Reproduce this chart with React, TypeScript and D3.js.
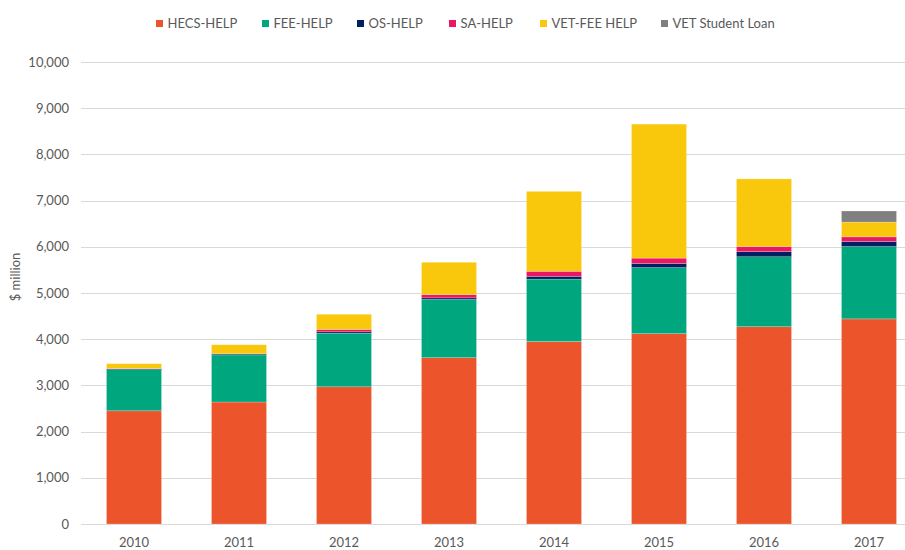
import React, { useEffect, useRef } from 'react';
import * as d3 from 'd3';

const years = ['2010', '2011', '2012', '2013', '2014', '2015', '2016', '2017'];
const seriesNames = ['HECS-HELP', 'FEE-HELP', 'OS-HELP', 'SA-HELP', 'VET-FEE HELP', 'VET Student Loan'];
const seriesColors = ['#EC552C', '#00A77E', '#002060', '#EC1763', '#F9C80C', '#808080'];

const hecsHelp = [2450, 2640, 2970, 3600, 3950, 4120, 4270, 4440];
const feeHelp = [890, 1020, 1160, 1260, 1350, 1430, 1515, 1565];
const osHelp = [20, 20, 30, 35, 60, 90, 110, 110];
const saHelp = [5, 5, 50, 70, 110, 115, 110, 100];
const vetFeeHelp = [105, 195, 330, 700, 1730, 2900, 1465, 320];
const vetStudentLoan = [0, 0, 0, 0, 0, 0, 0, 240];

const yTicks = [0, 1000, 2000, 3000, 4000, 5000, 6000, 7000, 8000, 9000, 10000];
const legendX = [156, 262, 357, 449, 540, 661];

const W = 905;
const H = 550;
const FONT = 'Lato, "Open Sans", sans-serif';

const App = () => {
  const ref = useRef<SVGSVGElement>(null);

  useEffect(() => {
    const svg = d3.select(ref.current);
    svg.selectAll('*').remove();

    const all = [hecsHelp, feeHelp, osHelp, saHelp, vetFeeHelp, vetStudentLoan];
    const rows = years.map((yr, i) => {
      const row: any = { year: yr };
      seriesNames.forEach((s, k) => { row[s] = all[k][i]; });
      return row;
    });

    const x = d3.scaleBand()
      .domain(years)
      .range([81.5, 921.5])
      .paddingInner(0.476)
      .paddingOuter(0.238);

    const y = d3.scaleLinear().domain([0, 10000]).range([524, 62]);

    // gridlines
    svg.append('g')
      .selectAll('line')
      .data(yTicks)
      .enter()
      .append('line')
      .attr('x1', 81)
      .attr('x2', W)
      .attr('y1', d => Math.round(y(d)) + 0.5)
      .attr('y2', d => Math.round(y(d)) + 0.5)
      .attr('stroke', '#D9D9D9')
      .attr('stroke-width', 1);

    // y tick labels
    svg.append('g')
      .selectAll('text')
      .data(yTicks)
      .enter()
      .append('text')
      .attr('x', 69)
      .attr('y', d => y(d) + 4.5)
      .attr('text-anchor', 'end')
      .style('font-family', FONT)
      .style('font-size', '13px')
      .style('fill', '#595959')
      .text(d => d3.format(',')(d));

    // y axis title
    svg.append('text')
      .attr('transform', 'translate(20, 277) rotate(-90)')
      .attr('text-anchor', 'middle')
      .style('font-family', FONT)
      .style('font-size', '13px')
      .style('fill', '#595959')
      .text('$ million');

    const stack = d3.stack().keys(seriesNames);
    const layers = stack(rows);

    svg.append('g')
      .selectAll('g')
      .data(layers)
      .enter()
      .append('g')
      .attr('fill', (d, i) => seriesColors[i])
      .selectAll('rect')
      .data(d => d.filter(p => p[1] - p[0] > 0))
      .enter()
      .append('rect')
      .attr('x', (d: any) => x(d.data.year) as number)
      .attr('width', x.bandwidth())
      .attr('y', d => y(d[1]))
      .attr('height', d => y(d[0]) - y(d[1]))
      .attr('stroke', '#ffffff')
      .attr('stroke-opacity', 0.35)
      .attr('stroke-width', 0.6);

    // x labels
    svg.append('g')
      .selectAll('text')
      .data(years)
      .enter()
      .append('text')
      .attr('x', d => (x(d) as number) + x.bandwidth() / 2)
      .attr('y', 547)
      .attr('text-anchor', 'middle')
      .style('font-family', FONT)
      .style('font-size', '13px')
      .style('fill', '#595959')
      .text(d => d);

    // legend
    const legend = svg.append('g')
      .selectAll('g')
      .data(seriesNames)
      .enter()
      .append('g')
      .attr('transform', (d, i) => `translate(${legendX[i]}, 20)`);

    legend.append('rect')
      .attr('width', 7)
      .attr('height', 7)
      .attr('fill', (d, i) => seriesColors[i]);

    legend.append('text')
      .attr('x', 11.5)
      .attr('y', 7.5)
      .style('font-family', FONT)
      .style('font-size', '13px')
      .style('fill', '#595959')
      .text(d => d);
  }, []);

  return (
    <svg
      ref={ref}
      width={W}
      height={H}
      style={{ position: 'absolute', left: 0, top: 0, background: '#fff' }}
    />
  );
};

export default App;
